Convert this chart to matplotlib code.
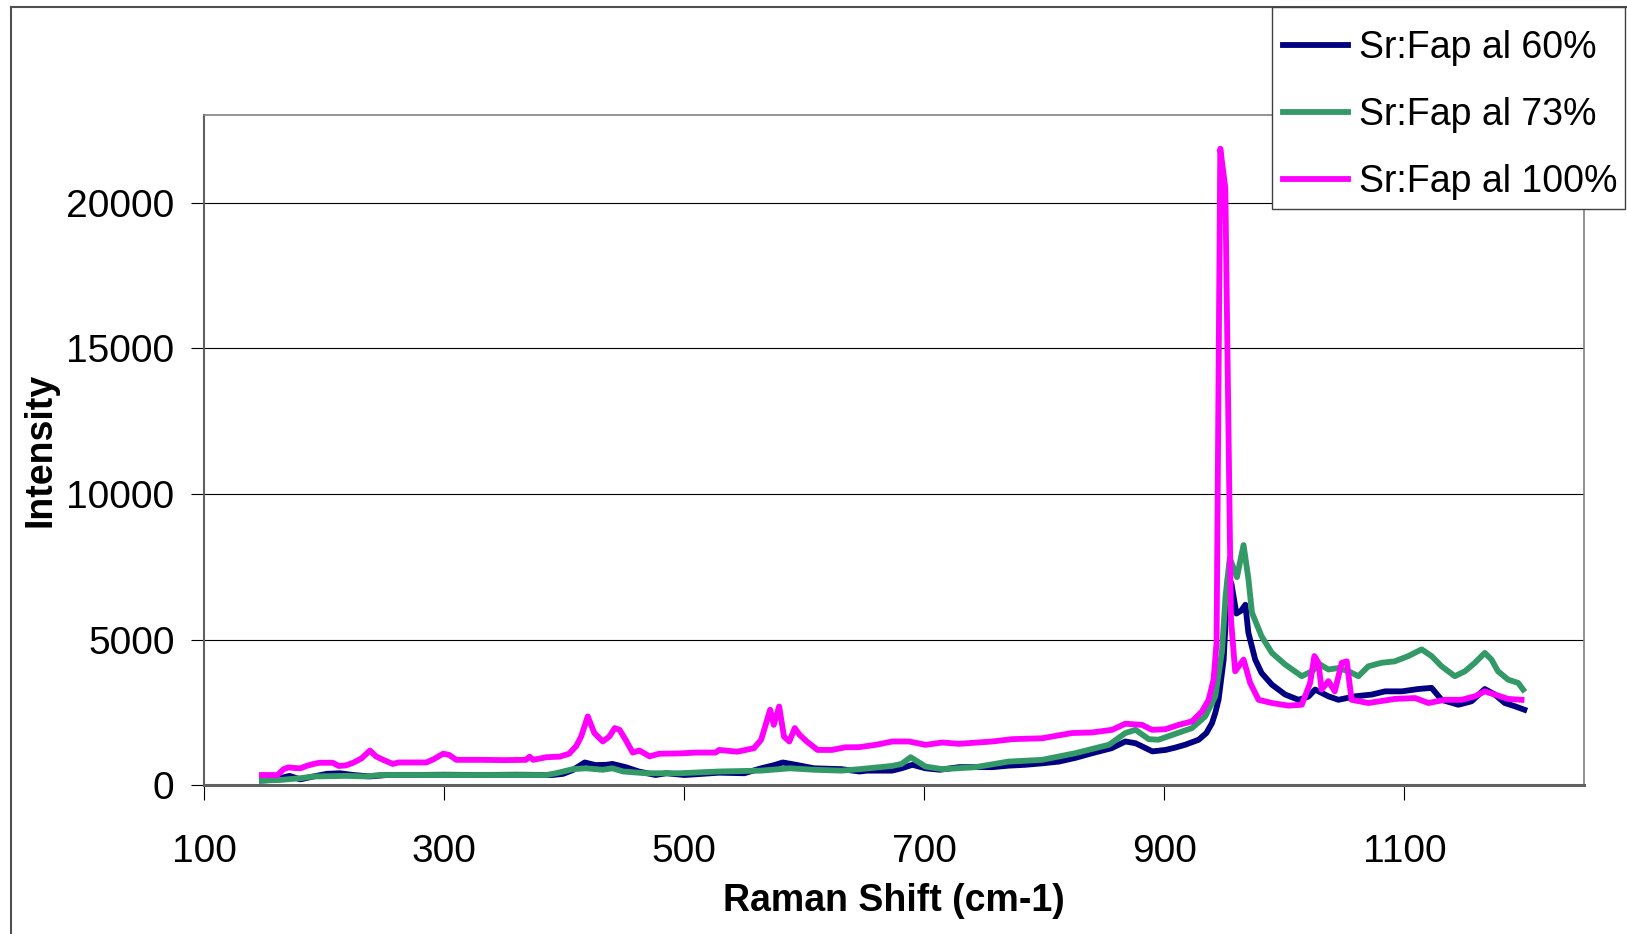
import matplotlib
matplotlib.use("Agg")
import matplotlib.pyplot as plt
from matplotlib.lines import Line2D
from matplotlib.patches import Rectangle

plt.rcParams["font.family"] = ["Liberation Sans", "DejaVu Sans"]

# Raman spectra, intensity vs shift (cm-1)
x_60 = [148, 160, 166, 171, 180, 191, 202, 213, 224, 238, 252, 274, 300, 330, 360, 390,
        399, 407, 417, 426, 435, 440, 451, 462, 476, 485, 500, 515, 529, 550, 564, 575,
        582, 593, 608, 631, 646, 652, 673, 681, 690, 701, 713, 729, 757, 770, 784, 798,
        812, 826, 840, 856, 867.5, 876, 890, 901, 909, 917.5, 928.6, 935, 939.7, 942.5,
        945.2, 949.4, 953, 956, 960, 964, 967.5, 970, 975.7, 981, 989.6, 1000.7, 1011.8,
        1020, 1025.6, 1036.7, 1045, 1059, 1072.8, 1083.9, 1097.8, 1111.6, 1122.7, 1131,
        1145, 1156, 1167, 1175.4, 1183.7, 1192, 1200]
y_60 = [170, 200, 280, 330, 210, 310, 400, 420, 360, 310, 360, 360, 370, 360, 370, 360,
        400, 530, 790, 700, 710, 740, 630, 480, 360, 420, 360, 400, 440, 420, 590, 700,
        790, 710, 590, 560, 480, 510, 510, 590, 710, 590, 540, 630, 630, 680, 710, 760,
        820, 950, 1110, 1280, 1510, 1450, 1170, 1220, 1300, 1400, 1570, 1800, 2140, 2500,
        2950, 4320, 7200, 6900, 5900, 6000, 6200, 5240, 4320, 3860, 3460, 3120, 2940,
        3050, 3290, 3060, 2940, 3060, 3120, 3230, 3230, 3310, 3350, 2940,
        2770, 2890, 3310, 3120, 2830, 2720, 2600]

x_73 = [148, 163, 180, 191, 218, 235, 246, 300, 350, 385, 393, 407, 418, 432, 440, 449,
        468, 496, 529, 564, 588, 608, 631, 646, 673, 681, 688.6, 701, 715, 742.7, 770, 798,
        826, 854, 867.5, 876, 887, 895, 909, 923, 934, 942.4, 948, 951, 954.5, 960.5, 966,
        970, 973, 981, 989.6, 1000.7, 1014.5, 1022.9, 1029.8, 1036.7, 1045, 1053.4, 1061.7,
        1070, 1081, 1092, 1103.3, 1114.4, 1122.7, 1131, 1142, 1150.5, 1158.8, 1167, 1172.6,
        1178, 1186.5, 1194.8, 1199]
y_73 = [170, 190, 250, 310, 330, 310, 360, 360, 360, 360, 420, 560, 590, 540, 590, 480,
        420, 420, 480, 510, 590, 540, 510, 560, 670, 740, 970, 650, 560, 630, 820, 880,
        1110, 1400, 1800, 1910, 1590, 1570, 1770, 1970, 2370, 3060, 4600, 6500, 7800, 7150, 8250,
        7100, 5930, 5120, 4550, 4150, 3750, 3920, 4150, 3980, 4030, 3920, 3750,
        4090, 4210, 4260, 4440, 4670, 4440, 4090, 3750, 3920, 4210, 4550, 4320,
        3920, 3630, 3520, 3290]

x_100 = [148, 161, 166, 170, 175, 180, 185, 191, 196, 207, 212, 218, 224, 231, 238, 243,
         249, 257, 262, 285, 291, 299, 304, 310, 330, 350, 368, 371, 374, 385, 396, 404,
         410, 414, 419.5, 425, 432, 437.5, 442, 446, 451, 457, 462.5, 471, 479, 496, 510,
         526, 529, 544, 558, 564, 571.5, 574.5, 579, 583, 587.5, 592, 596, 602, 611, 623,
         634, 645.6, 659.5, 673.3, 687.2, 701, 715, 728.8, 756.6, 773.2, 798.2, 823, 839.8,
         856.4, 867.5, 881.4, 889.7, 900.8, 911.9, 923, 931.3, 936.9, 941, 943.5, 946.6,
         950.8, 955.5, 959, 966, 971.5, 978.5, 989.6, 1003.4, 1014.5, 1021.5, 1025, 1028.4,
         1031, 1036.7, 1042, 1047.8, 1052, 1056, 1070, 1092, 1109, 1120, 1133.8, 1147.7,
         1158.8, 1167, 1175.4, 1186.5, 1197.6]
y_100 = [360, 360, 560, 620, 600, 590, 670, 740, 780, 780, 670, 690, 780, 930, 1200, 1000,
         880, 740, 790, 790, 900, 1090, 1050, 880, 880, 870, 880, 990, 880, 970, 990, 1090,
         1360, 1680, 2370, 1800, 1510, 1680, 1970, 1910, 1570, 1130, 1200, 1000, 1090, 1100, 1130,
         1130, 1220, 1160, 1280, 1570, 2600, 2080, 2710, 1680, 1510, 1970, 1740, 1510, 1220, 1220,
         1310, 1315, 1395, 1510, 1510, 1395, 1475, 1430, 1510, 1590, 1620, 1800, 1820,
         1910, 2120, 2080, 1910, 1930, 2080, 2200, 2540, 2940, 3630, 4900, 21850,
         20500, 5700, 3920, 4320, 3520, 2940, 2830, 2740, 2770, 3520, 4440, 4210,
         3290, 3580, 3230, 4210, 4260, 2940, 2830, 2970, 3000, 2830, 2940, 2940,
         3060, 3230, 3120, 2970, 2940]

labels = ["Sr:Fap al 60%", "Sr:Fap al 73%", "Sr:Fap al 100%"]
colors = ["#000080", "#339966", "#FF00FF"]

W, H = 1627, 934
fig = plt.figure(figsize=(W / 100, H / 100), dpi=100)
ax = fig.add_axes([0.1256, 0.1590, 0.8482, 0.7177])

for xs, ys, lab, col in zip([x_60, x_73, x_100], [y_60, y_73, y_100], labels, colors):
    ax.plot(xs, ys, color=col, lw=4.2, label=lab)

ax.set_xlim(100, 1250)
ax.set_ylim(0, 23000)
ax.set_xticks([100, 300, 500, 700, 900, 1100])
ax.set_yticks([0, 5000, 10000, 15000, 20000])
ax.yaxis.grid(True, color="black", lw=0.8)
ax.set_axisbelow(True)

for side in ["top", "right"]:
    ax.spines[side].set_color("#808080")
    ax.spines[side].set_linewidth(1.2)
ax.spines["left"].set_color("#606060")
ax.spines["left"].set_linewidth(1.5)
ax.spines["bottom"].set_color("#606060")
ax.spines["bottom"].set_linewidth(2.2)

ax.tick_params(axis="x", direction="out", length=11, width=0.8, pad=24, labelsize=28)
ax.tick_params(axis="y", direction="out", length=9.5, width=0.8, pad=12, labelsize=28)

ax.set_xlabel("Raman Shift (cm-1)", fontsize=27, fontweight="bold")
ax.set_ylabel("Intensity", fontsize=27, fontweight="bold")
ax.xaxis.set_label_coords(0.5, -0.145)
ax.yaxis.set_label_coords(-0.106, 0.5)

# legend box drawn separately so its padding can differ per side
fig.add_artist(Rectangle((1272 / W, 1 - 209 / H), (1625 - 1272) / W, (209 - 7) / H,
                         transform=fig.transFigure, facecolor="white",
                         edgecolor="#404040", lw=1.0, zorder=4))
leg = fig.legend(loc="upper left", bbox_to_anchor=(1282.7 / W, 1 - 30.5 / H),
                 borderaxespad=0, borderpad=0, fontsize=27, handlelength=1.75,
                 handletextpad=0.28, labelspacing=0.82, frameon=False)
leg.set_zorder(5)

# chart area outline (left and top edges)
fig.add_artist(Line2D([11 / W, 11 / W], [0, 1 - 7 / H], color="#505050", lw=1.5))
fig.add_artist(Line2D([11 / W, 1], [1 - 7 / H, 1 - 7 / H], color="#505050", lw=1.5))

fig.savefig("out.png", dpi=100)
